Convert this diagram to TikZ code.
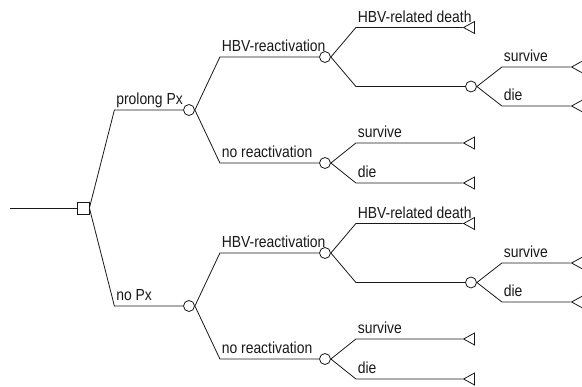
\documentclass[tikz,border=0pt]{standalone}
\usepackage{fontspec}
\setmainfont{Liberation Sans}[FakeStretch=0.87]
\usetikzlibrary{shapes.geometric,calc}

\tikzset{
  decision/.style={draw, rectangle, minimum size=12pt, inner sep=0pt},
  chance/.style={draw, circle, minimum size=11pt, inner sep=0pt},
  terminal/.style={draw, isosceles triangle, shape border rotate=180,
    isosceles triangle stretches, minimum width=12pt, minimum height=11pt, inner sep=0pt},
  branch/.style={pos=0, anchor=base west, inner sep=0pt, xshift=1.5pt, yshift=5pt}
}

\begin{document}
\begin{tikzpicture}[x=1pt, y=1pt, line width=0.8pt, grow'=right,
  font=\fontsize{16}{19}\selectfont, black!90,
  level 1/.style={level distance=106pt, sibling distance=196pt},
  level 2/.style={level distance=136pt, sibling distance=106pt},
  level 3/.style={level distance=146pt, sibling distance=59pt},
  level 4/.style={level distance=108pt, sibling distance=39pt},
  edge from parent path={(\tikzparentnode.east)
    -- ($(\tikzparentnode.east |- \tikzchildnode.west)+(25pt,0)$)
    -- (\tikzchildnode.west)}]
  \useasboundingbox (0,0) rectangle (582,-387);
  \coordinate (start) at (10,-208);
  \node[decision] (dec) at (83,-208) {}
    child {node[chance] (pro) {}
      child {node[chance] (proHBV) {}
        child {node[terminal] (proDeath) {}
          edge from parent node[branch] {HBV-related death}}
        child {node[chance] (proLive) {}
          child {node[terminal] (proLiveS) {} edge from parent node[branch] {survive}}
          child {node[terminal] (proLiveD) {} edge from parent node[branch] {die}}
        }
        edge from parent node[branch] {HBV-reactivation}}
      child {node[chance] (proNo) {}
        child[sibling distance=40pt] {node[terminal] (proNoS) {} edge from parent node[branch] {survive}}
        child[sibling distance=40pt] {node[terminal] (proNoD) {} edge from parent node[branch] {die}}
        edge from parent node[branch] {no reactivation}}
      edge from parent node[branch] {prolong Px}}
    child {node[chance] (non) {}
      child {node[chance] (nonHBV) {}
        child {node[terminal] (nonDeath) {}
          edge from parent node[branch] {HBV-related death}}
        child {node[chance] (nonLive) {}
          child {node[terminal] (nonLiveS) {} edge from parent node[branch] {survive}}
          child {node[terminal] (nonLiveD) {} edge from parent node[branch] {die}}
        }
        edge from parent node[branch] {HBV-reactivation}}
      child {node[chance] (nonNo) {}
        child[sibling distance=40pt] {node[terminal] (nonNoS) {} edge from parent node[branch] {survive}}
        child[sibling distance=40pt] {node[terminal] (nonNoD) {} edge from parent node[branch] {die}}
        edge from parent node[branch] {no reactivation}}
      edge from parent node[branch] {no Px}};
  \draw (start) -- (dec);
\end{tikzpicture}
\end{document}
